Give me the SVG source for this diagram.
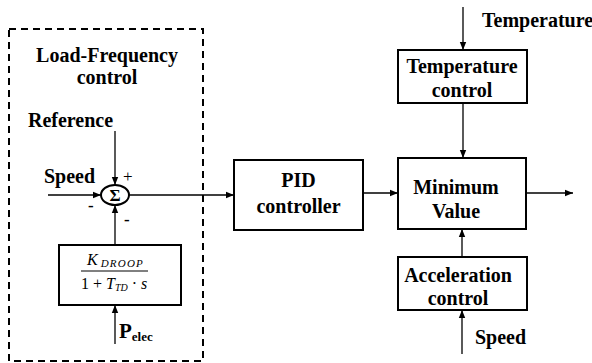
<svg xmlns="http://www.w3.org/2000/svg" width="592" height="363" viewBox="0 0 592 363">
<style>
.t{font-family:"Liberation Serif","Times New Roman",serif;font-weight:bold;font-size:20px;fill:#000}
.m{font-family:"Liberation Serif","Times New Roman",serif;fill:#000}
.box{fill:#fff;stroke:#000;stroke-width:2}
.ln{fill:none;stroke:#000;stroke-width:1.3}
</style>
<defs>
<marker id="ah" viewBox="0 0 10 10" refX="10" refY="5" markerWidth="8" markerHeight="8" markerUnits="userSpaceOnUse" orient="auto">
<path d="M0,1 L10,5 L0,9 Z" fill="#000"/>
</marker>
</defs>
<g id="lfc-group">
<rect x="9" y="29" width="194" height="332" fill="none" stroke="#000" stroke-width="2" stroke-dasharray="7,5"/>
<text class="t" x="107" y="62" text-anchor="middle">Load-Frequency</text>
<text class="t" x="107" y="84" text-anchor="middle">control</text>
</g>
<g id="labels">
<text class="t" x="28" y="127">Reference</text>
<text class="t" x="44" y="183">Speed</text>
<text class="m" x="123" y="182" font-size="17">+</text>
<text class="m" x="88" y="211" font-size="17" font-weight="bold">-</text>
<text class="m" x="124" y="225" font-size="17" font-weight="bold">-</text>
<text class="t" x="482" y="27">Temperature</text>
<text class="t" x="475" y="344">Speed</text>
<text class="m" x="119" y="338" font-size="21" font-weight="bold">P<tspan font-size="13" dy="3">elec</tspan></text>
</g>
<g id="sum">
<ellipse cx="115" cy="195" rx="14" ry="10" fill="#fff" stroke="#000" stroke-width="2"/>
<text class="m" x="115" y="201" font-size="17" font-weight="bold" text-anchor="middle">Σ</text>
</g>
<g id="droop">
<rect class="box" x="59" y="245" width="122" height="60"/>
<text class="m" x="87" y="265" font-size="16" font-style="italic">K<tspan font-size="11" dx="3" dy="2" letter-spacing="1.2">DROOP</tspan></text>
<line x1="81" y1="271" x2="148" y2="271" stroke="#000" stroke-width="1"/>
<text class="m" x="81" y="289" font-size="16">1 + <tspan font-style="italic">T</tspan><tspan font-size="10" font-style="italic" dy="2">TD</tspan><tspan dy="-2" dx="4">·</tspan><tspan font-style="italic" dx="4">s</tspan></text>
</g>
<g id="pid">
<rect class="box" x="234" y="160" width="129" height="70"/>
<text class="t" x="298.5" y="187" text-anchor="middle">PID</text>
<text class="t" x="298.5" y="213" text-anchor="middle">controller</text>
</g>
<g id="minimum">
<rect class="box" x="398" y="158" width="128" height="71"/>
<text class="t" x="456" y="194" text-anchor="middle">Minimum</text>
<text class="t" x="456" y="218" text-anchor="middle">Value</text>
</g>
<g id="tempctrl">
<rect class="box" x="398" y="50" width="129" height="53"/>
<text class="t" x="462" y="73" text-anchor="middle">Temperature</text>
<text class="t" x="462" y="97" text-anchor="middle">control</text>
</g>
<g id="accel">
<rect class="box" x="398" y="257" width="129" height="53"/>
<text class="t" x="458" y="282" text-anchor="middle">Acceleration</text>
<text class="t" x="458" y="305" text-anchor="middle">control</text>
</g>
<g id="connectors">
<line class="ln" x1="115" y1="131" x2="115" y2="185" marker-end="url(#ah)"/>
<line class="ln" x1="48" y1="195" x2="101" y2="195" marker-end="url(#ah)"/>
<line class="ln" x1="115" y1="245" x2="115" y2="205" marker-end="url(#ah)"/>
<line class="ln" x1="115" y1="344" x2="115" y2="305" marker-end="url(#ah)"/>
<line class="ln" x1="129" y1="195" x2="234" y2="195" marker-end="url(#ah)"/>
<line class="ln" x1="363" y1="193" x2="398" y2="193" marker-end="url(#ah)"/>
<line class="ln" x1="526" y1="193" x2="573" y2="193" marker-end="url(#ah)"/>
<line class="ln" x1="463" y1="7" x2="463" y2="50" marker-end="url(#ah)"/>
<line class="ln" x1="463" y1="103" x2="463" y2="158" marker-end="url(#ah)"/>
<line class="ln" x1="462" y1="257" x2="462" y2="229" marker-end="url(#ah)"/>
<line class="ln" x1="462" y1="354" x2="462" y2="310" marker-end="url(#ah)"/>
</g>
</svg>
